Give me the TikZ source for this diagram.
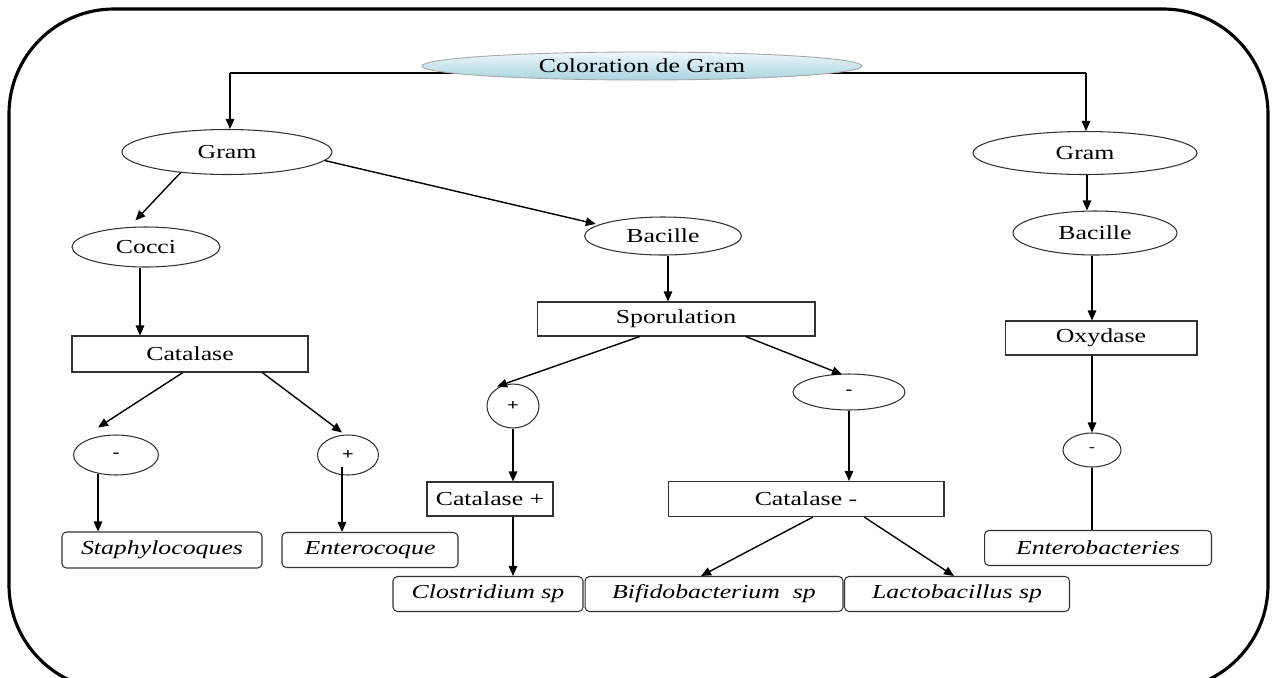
\documentclass[tikz,border=0pt]{standalone}
\usepackage{fontspec}
\setmainfont{Liberation Serif}[FakeStretch=1.3]
\usetikzlibrary{arrows.meta,calc,shapes.geometric,backgrounds}
\definecolor{edge}{HTML}{333333}
\definecolor{skytop}{HTML}{EEF8FB}
\definecolor{skybot}{HTML}{A9D3DF}
\begin{document}
\begin{tikzpicture}[x=0.02cm,y=-0.02cm,
  every node/.style={font=\fontsize{11.3pt}{13pt}\selectfont, inner sep=0pt},
  ell/.style={ellipse, draw=edge, line width=0.6pt, fill=white},
  sbox/.style={rectangle, draw=edge, line width=0.6pt, fill=white},
  res/.style={rectangle, rounded corners=2.5pt, draw=edge, line width=0.6pt, fill=white,
              font=\fontsize{11.3pt}{13pt}\selectfont\itshape},
  sign/.style={ellipse, draw=edge, line width=0.6pt, fill=white,
               font=\fontsize{9pt}{11pt}\selectfont\bfseries},
  arr/.style={-{Triangle[length=0.2cm,width=0.17cm]}, line width=0.8pt},
  link/.style={line width=0.8pt}]

\useasboundingbox (0,0) rectangle (1272,677);

% outer frame
\begin{scope}
  \clip (0,0) rectangle (1272,677);
  \draw[line width=1.8pt, rounded corners=2.1cm] (9,9) rectangle (1268,690);
\end{scope}

% title
\node[ellipse, draw=gray!70, line width=0.5pt, top color=skytop, bottom color=skybot,
      minimum width=8.8cm, minimum height=0.56cm] (top) at (642,66) {Coloration de Gram};

% first level
\node[ell, minimum width=4.2cm,  minimum height=0.9cm]  (gl) at (227,152) {Gram};
\node[ell, minimum width=4.48cm, minimum height=0.86cm] (gr) at (1085,153) {Gram};

\coordinate (jl) at (230,73);
\coordinate (jr) at (1086,73);
\begin{scope}[on background layer]
  \draw[link] (jl) -- (jr);
\end{scope}
\draw[arr] (jl) -- (jl |- gl.north);
\draw[arr] (jr) -- (jr |- gr.north);

% left branch: cocci
\node[ell, minimum width=2.96cm, minimum height=0.8cm] (cocci) at (146,247) {Cocci};
\node[sbox, minimum width=4.72cm, minimum height=0.72cm] (cat) at (190,354) {Catalase};
\node[sign, minimum width=1.7cm,  minimum height=0.8cm] (lm) at (116,455) {-};
\node[sign, minimum width=1.22cm, minimum height=0.8cm] (lp) at (348,455) {+};
\node[res, minimum width=4.0cm,  minimum height=0.72cm] (staph) at (162,550) {Staphylocoques};
\node[res, minimum width=3.52cm, minimum height=0.7cm]  (entc)  at (370,550) {Enterocoque};

\draw[arr, shorten >=0.18cm] (gl.204) -- (cocci.130);
\draw[arr] (cocci.south -| 140,0) -- (cat.north -| 140,0);
\draw[arr] ($(cat.south west)!0.47!(cat.south east)$) -- ($(lm.north)+(-18,-7)$);
\draw[arr] ($(cat.south west)!0.805!(cat.south east)$) -- ($(lp.north)+(-6,-2)$);
\coordinate (lmo) at ($(lm.south)+(-18,-2)$);
\draw[arr] (lmo) -- (lmo |- staph.north);
\coordinate (lpo) at ($(lp.center)+(-6,12)$);
\draw[arr] (lpo) -- (lpo |- entc.north);

% middle branch: bacilles
\node[ell, minimum width=3.14cm, minimum height=0.76cm] (mb) at (663,236) {Bacille};
\node[sbox, minimum width=5.56cm, minimum height=0.68cm] (spo) at (676,319) {Sporulation};
\node[sign, minimum width=1.04cm, minimum height=0.88cm] (mp) at (513,406) {+};
\node[sign, minimum width=2.24cm, minimum height=0.72cm] (mm) at (849,392) {-};
\node[sbox, minimum width=2.52cm, minimum height=0.68cm] (catp) at (490,499) {Catalase +};
\node[sbox, minimum width=5.52cm, minimum height=0.7cm]  (catm) at (806,499) {Catalase -};
\node[res, minimum width=3.8cm,  minimum height=0.7cm] (clos)  at (488,594) {Clostridium sp};
\node[res, minimum width=5.16cm, minimum height=0.7cm] (bifi)  at (714,594) {Bifidobacterium\ \ sp};
\node[res, minimum width=4.5cm,  minimum height=0.7cm] (lacto) at (957,594) {Lactobacillus sp};

\draw[arr, shorten >=0.06cm] (gl.-5) -- (mb.170);
\coordinate (mbo) at ($(mb.south)+(5,0)$);
\draw[arr] (mbo) -- (mbo |- spo.north);
\draw[arr] ($(spo.south west)!0.37!(spo.south east)$) -- ($(mp.north)+(-16,3)$);
\draw[arr] ($(spo.south west)!0.75!(spo.south east)$) -- ($(mm.north)+(-7,1)$);
\draw[arr] (mp.south) -- (mp.south |- catp.north);
\draw[arr] (mm.south) -- (mm.south |- catm.north);
\coordinate (cpo) at (catp.south -| mp.south);
\draw[arr] (cpo) -- (cpo |- clos.north);
\draw[arr] ($(catm.south west)!0.525!(catm.south east)$) -- ($(bifi.north)+(-13,0)$);
\draw[arr] ($(catm.south west)!0.71!(catm.south east)$) -- ($(lacto.north)+(-3,0)$);

% right branch: gram negative
\node[ell, minimum width=3.28cm, minimum height=0.88cm] (br) at (1095,233) {Bacille};
\node[sbox, minimum width=3.84cm, minimum height=0.68cm] (ox) at (1101,338) {Oxydase};
\node[sign, minimum width=1.16cm, minimum height=0.68cm, font=\fontsize{8pt}{10pt}\selectfont] (rm) at (1092,450) {-};
\node[res, minimum width=4.54cm, minimum height=0.7cm] (entb) at (1098,548) {Enterobacteries};

\coordinate (gro) at ($(gr.south)+(2,0)$);
\draw[arr] (gro) -- (gro |- br.north);
\coordinate (bro) at ($(br.south)+(-3,0)$);
\draw[arr] (bro) -- (bro |- ox.north);
\draw[arr] (ox.south -| rm.north) -- (rm.north);
\draw[link] (rm.south) -- (rm.south |- entb.north);

\end{tikzpicture}
\end{document}
